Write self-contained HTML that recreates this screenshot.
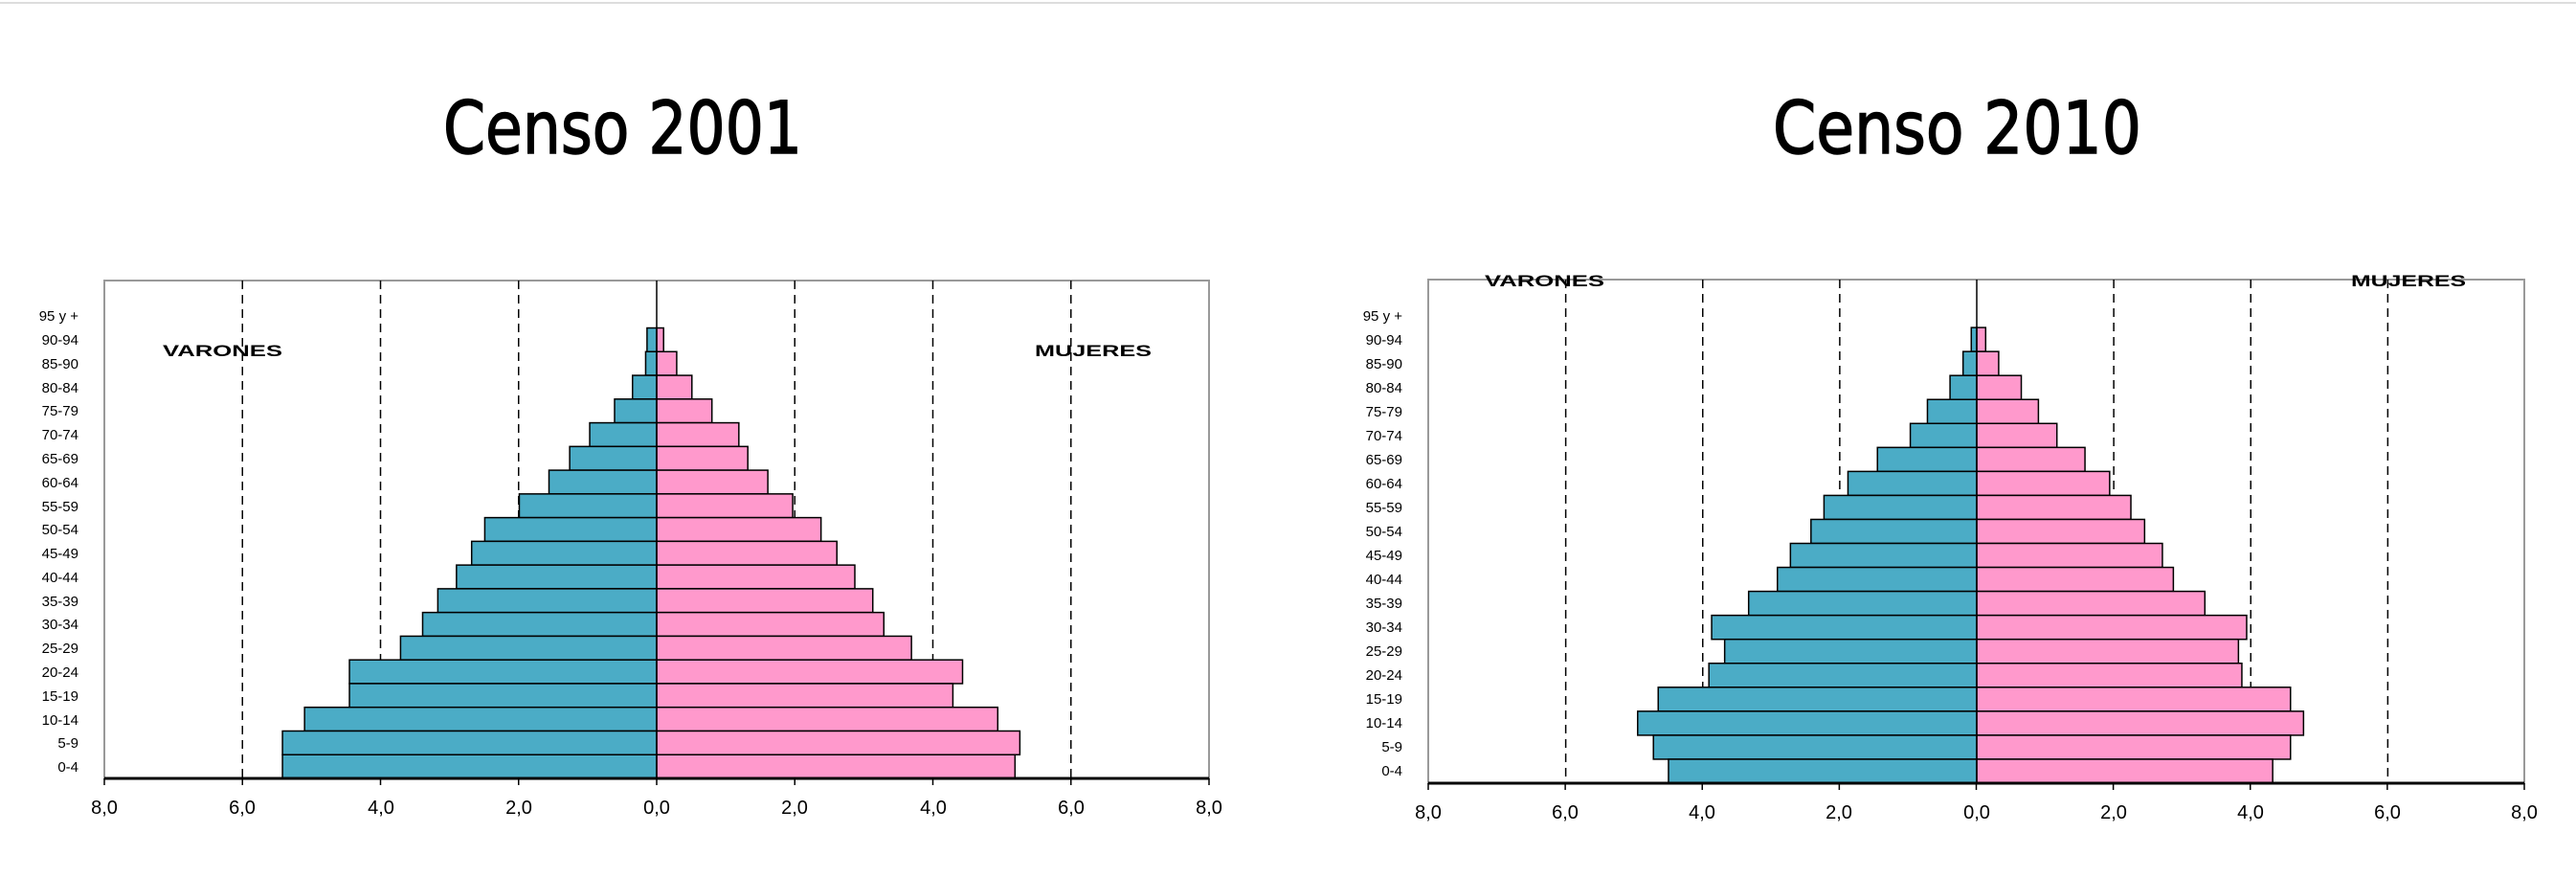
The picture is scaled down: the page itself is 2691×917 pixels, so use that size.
<!DOCTYPE html>
<html><head><meta charset="utf-8"><style>
html,body{margin:0;padding:0;background:#fff;width:2691px;height:917px;overflow:hidden}
svg{display:block}
.t{font-family:"DejaVu Sans","Liberation Sans",sans-serif;font-size:76px;fill:#000;stroke:#000;stroke-width:1.5}
.l{font-family:"Liberation Sans",sans-serif;font-size:15px;fill:#000}
.x{font-family:"Liberation Sans",sans-serif;font-size:20px;fill:#000}
.b{font-family:"Liberation Sans",sans-serif;font-size:17px;font-weight:bold;fill:#000}
</style></head><body>
<svg id="s" width="2691" height="917" xmlns="http://www.w3.org/2000/svg">
<line x1="0" y1="3" x2="2691" y2="3" stroke="#ddd" stroke-width="2"/>
<text class="t" x="463" y="160" textLength="375" lengthAdjust="spacingAndGlyphs">Censo 2001</text>
<text class="t" x="1852" y="160" textLength="385" lengthAdjust="spacingAndGlyphs">Censo 2010</text>
<g id="g1"></g><g id="g2"></g>
<text class="b" x="170" y="372" textLength="125" lengthAdjust="spacingAndGlyphs">VARONES</text>
<text class="b" x="1081" y="372" textLength="122" lengthAdjust="spacingAndGlyphs">MUJERES</text>
<text class="b" x="1551" y="299" textLength="125" lengthAdjust="spacingAndGlyphs">VARONES</text>
<text class="b" x="2456" y="299" textLength="120" lengthAdjust="spacingAndGlyphs">MUJERES</text>
<g class="l" text-anchor="end">
<text x="82" y="335">95 y +</text><text x="82" y="360">90-94</text><text x="82" y="385">85-90</text><text x="82" y="410">80-84</text><text x="82" y="434">75-79</text><text x="82" y="459">70-74</text><text x="82" y="484">65-69</text><text x="82" y="509">60-64</text><text x="82" y="534">55-59</text><text x="82" y="558">50-54</text><text x="82" y="583">45-49</text><text x="82" y="608">40-44</text><text x="82" y="633">35-39</text><text x="82" y="657">30-34</text><text x="82" y="682">25-29</text><text x="82" y="707">20-24</text><text x="82" y="732">15-19</text><text x="82" y="757">10-14</text><text x="82" y="781">5-9</text><text x="82" y="806">0-4</text>
</g>
<g class="l" text-anchor="end">
<text x="1465" y="335">95 y +</text><text x="1465" y="360">90-94</text><text x="1465" y="385">85-90</text><text x="1465" y="410">80-84</text><text x="1465" y="435">75-79</text><text x="1465" y="460">70-74</text><text x="1465" y="485">65-69</text><text x="1465" y="510">60-64</text><text x="1465" y="535">55-59</text><text x="1465" y="560">50-54</text><text x="1465" y="585">45-49</text><text x="1465" y="610">40-44</text><text x="1465" y="635">35-39</text><text x="1465" y="660">30-34</text><text x="1465" y="685">25-29</text><text x="1465" y="710">20-24</text><text x="1465" y="735">15-19</text><text x="1465" y="760">10-14</text><text x="1465" y="785">5-9</text><text x="1465" y="810">0-4</text>
</g>
<g class="x" text-anchor="middle">
<text x="109" y="850">8,0</text><text x="253" y="850">6,0</text><text x="398" y="850">4,0</text><text x="542" y="850">2,0</text><text x="686" y="850">0,0</text><text x="830" y="850">2,0</text><text x="975" y="850">4,0</text><text x="1119" y="850">6,0</text><text x="1263" y="850">8,0</text>
<text x="1492" y="855">8,0</text><text x="1635" y="855">6,0</text><text x="1778" y="855">4,0</text><text x="1921" y="855">2,0</text><text x="2065" y="855">0,0</text><text x="2208" y="855">2,0</text><text x="2351" y="855">4,0</text><text x="2494" y="855">6,0</text><text x="2637" y="855">8,0</text>
</g>
</svg>
<script>
var NS="http://www.w3.org/2000/svg";
function el(g,n,a){var e=document.createElementNS(NS,n);for(var k in a)e.setAttribute(k,a[k]);g.appendChild(e);}
function chart(id,x0,x1,z,top,bot,M,F){
 var g=document.getElementById(id),u=(x1-x0)/16,h=(bot-top)/21;
 el(g,"rect",{x:x0,y:top,width:x1-x0,height:bot-top,fill:"none",stroke:"#999","stroke-width":2});
 for(var i=-3;i<=3;i++){if(!i)continue;var x=z+i*u*2;el(g,"line",{x1:x,y1:top,x2:x,y2:bot,stroke:"#000","stroke-width":1.5,"stroke-dasharray":"9,6"});}
 for(var r=0;r<19;r++){var y=top+(r+2)*h;
  el(g,"rect",{x:z-M[r]*u,y:y,width:M[r]*u,height:h,fill:"#4bacc6",stroke:"#000","stroke-width":1.5});
  el(g,"rect",{x:z,y:y,width:F[r]*u,height:h,fill:"#ff99cc",stroke:"#000","stroke-width":1.5});}
 el(g,"line",{x1:z,y1:top,x2:z,y2:bot,stroke:"#000","stroke-width":1.5});
 el(g,"line",{x1:x0,y1:bot,x2:x1,y2:bot,stroke:"#000","stroke-width":3});
 for(var i=0;i<=8;i++){var x=x0+i*u*2;el(g,"line",{x1:x,y1:bot,x2:x,y2:bot+7,stroke:"#000","stroke-width":1.5});}
}
chart("g1",109,1263,686,293,813,
[0.14,0.16,0.35,0.61,0.97,1.26,1.56,1.99,2.49,2.68,2.90,3.17,3.39,3.71,4.45,4.45,5.1,5.42,5.42],
[0.10,0.29,0.51,0.8,1.19,1.32,1.61,1.97,2.38,2.61,2.87,3.13,3.29,3.69,4.43,4.29,4.94,5.26,5.19]);
chart("g2",1492,2637,2065,292,818,
[0.08,0.2,0.39,0.72,0.97,1.45,1.88,2.23,2.42,2.72,2.91,3.33,3.87,3.68,3.91,4.65,4.95,4.72,4.5],
[0.13,0.32,0.65,0.9,1.17,1.58,1.94,2.25,2.45,2.71,2.87,3.33,3.94,3.82,3.87,4.58,4.77,4.58,4.32]);
</script>
</body></html>
